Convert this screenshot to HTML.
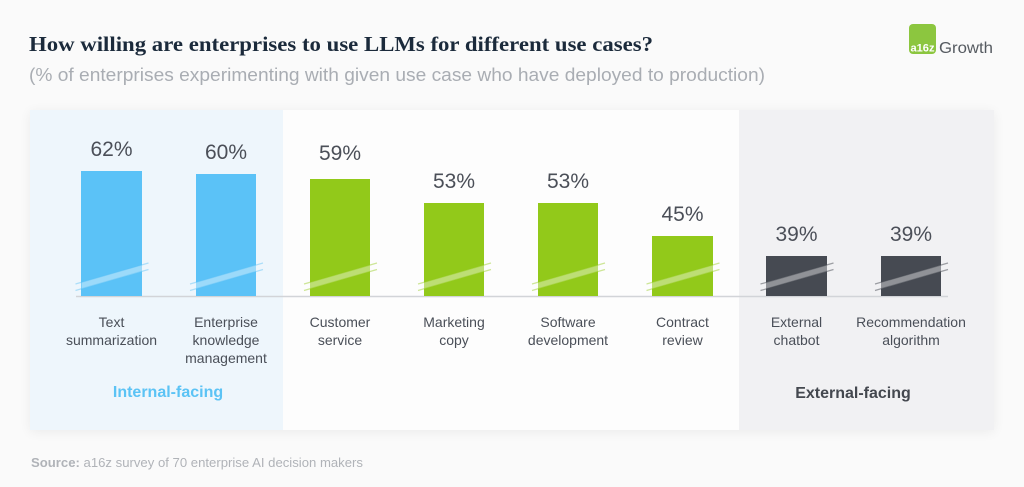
<!DOCTYPE html>
<html><head><meta charset="utf-8"><style>
html,body{margin:0;padding:0;background:#fafafa;}
svg{display:block;}
</style></head><body>
<svg width="1024" height="487" viewBox="0 0 1024 487" xmlns="http://www.w3.org/2000/svg" font-family="Liberation Sans, sans-serif">
<defs>
<filter id="sh" x="-5%" y="-10%" width="110%" height="120%"><feGaussianBlur stdDeviation="6"/></filter>
</defs>
<rect width="1024" height="487" fill="#fafafa"/>
<!-- title -->
<text x="29" y="51" font-family="Liberation Serif, serif" font-weight="bold" font-size="21" fill="#1b2a3b" textLength="624" lengthAdjust="spacingAndGlyphs">How willing are enterprises to use LLMs for different use cases?</text>
<text x="29" y="81" font-size="18" fill="#a9adb3" textLength="736" lengthAdjust="spacingAndGlyphs">(% of enterprises experimenting with given use case who have deployed to production)</text>
<!-- logo -->
<rect x="909" y="24" width="27" height="30" rx="4" fill="#8cc63f"/>
<text x="910.5" y="51.5" font-size="11" font-weight="bold" fill="#ffffff" textLength="24" lengthAdjust="spacingAndGlyphs">a16z</text>
<text x="939" y="53" font-size="16" fill="#555a60" textLength="54" lengthAdjust="spacingAndGlyphs">Growth</text>
<!-- panel shadow -->
<rect x="30" y="112" width="964" height="320" fill="#000" opacity="0.06" filter="url(#sh)"/>
<rect x="30" y="110" width="253" height="320" fill="#eef6fc"/>
<rect x="283" y="110" width="456" height="320" fill="#fdfdfd"/>
<rect x="739" y="110" width="255" height="320" fill="#f1f1f3"/>
<!-- baseline -->
<line x1="76" y1="296.5" x2="948" y2="296.5" stroke="#d2d4d8" stroke-width="1.5"/>
<!-- bars -->
<g>
<rect x="81" y="171" width="61" height="125" fill="#5bc2f7"/>
<rect x="196" y="174" width="60" height="122" fill="#5bc2f7"/>
<rect x="310" y="179" width="60" height="117" fill="#92c91a"/>
<rect x="424" y="203" width="60" height="93" fill="#92c91a"/>
<rect x="538" y="203" width="60" height="93" fill="#92c91a"/>
<rect x="652" y="236" width="61" height="60" fill="#92c91a"/>
<rect x="766" y="256" width="61" height="40" fill="#464a52"/>
<rect x="881" y="256" width="60" height="40" fill="#464a52"/>
</g>
<!-- break stripes -->
<g id="stripes">
<g transform="translate(111.5,0)">
<polygon points="-30,282.4 30.5,265 30.5,271.5 -30,288.9" fill="#fff" opacity="0.4"/>
<line x1="-36" y1="284" x2="37" y2="263" stroke="#5bc2f7" stroke-opacity="0.45" stroke-width="1.2"/>
<line x1="-36" y1="290.5" x2="37" y2="269.5" stroke="#5bc2f7" stroke-opacity="0.45" stroke-width="1.2"/>
</g>
<g transform="translate(226,0)">
<polygon points="-30,282.4 30,265 30,271.5 -30,288.9" fill="#fff" opacity="0.4"/>
<line x1="-36" y1="284" x2="37" y2="263" stroke="#5bc2f7" stroke-opacity="0.45" stroke-width="1.2"/>
<line x1="-36" y1="290.5" x2="37" y2="269.5" stroke="#5bc2f7" stroke-opacity="0.45" stroke-width="1.2"/>
</g>
<g transform="translate(340,0)">
<polygon points="-30,282.4 30,265 30,271.5 -30,288.9" fill="#fff" opacity="0.4"/>
<line x1="-36" y1="284" x2="37" y2="263" stroke="#92c91a" stroke-opacity="0.45" stroke-width="1.2"/>
<line x1="-36" y1="290.5" x2="37" y2="269.5" stroke="#92c91a" stroke-opacity="0.45" stroke-width="1.2"/>
</g>
<g transform="translate(454,0)">
<polygon points="-30,282.4 30,265 30,271.5 -30,288.9" fill="#fff" opacity="0.4"/>
<line x1="-36" y1="284" x2="37" y2="263" stroke="#92c91a" stroke-opacity="0.45" stroke-width="1.2"/>
<line x1="-36" y1="290.5" x2="37" y2="269.5" stroke="#92c91a" stroke-opacity="0.45" stroke-width="1.2"/>
</g>
<g transform="translate(568,0)">
<polygon points="-30,282.4 30,265 30,271.5 -30,288.9" fill="#fff" opacity="0.4"/>
<line x1="-36" y1="284" x2="37" y2="263" stroke="#92c91a" stroke-opacity="0.45" stroke-width="1.2"/>
<line x1="-36" y1="290.5" x2="37" y2="269.5" stroke="#92c91a" stroke-opacity="0.45" stroke-width="1.2"/>
</g>
<g transform="translate(682.5,0)">
<polygon points="-30.5,282.4 30.5,265 30.5,271.5 -30.5,288.9" fill="#fff" opacity="0.4"/>
<line x1="-36" y1="284" x2="37" y2="263" stroke="#92c91a" stroke-opacity="0.45" stroke-width="1.2"/>
<line x1="-36" y1="290.5" x2="37" y2="269.5" stroke="#92c91a" stroke-opacity="0.45" stroke-width="1.2"/>
</g>
<g transform="translate(796.5,0)">
<polygon points="-30.5,282.4 30.5,265 30.5,271.5 -30.5,288.9" fill="#fff" opacity="0.4"/>
<line x1="-36" y1="284" x2="37" y2="263" stroke="#464a52" stroke-opacity="0.5" stroke-width="1.2"/>
<line x1="-36" y1="290.5" x2="37" y2="269.5" stroke="#464a52" stroke-opacity="0.5" stroke-width="1.2"/>
</g>
<g transform="translate(911,0)">
<polygon points="-30,282.4 30,265 30,271.5 -30,288.9" fill="#fff" opacity="0.4"/>
<line x1="-36" y1="284" x2="37" y2="263" stroke="#464a52" stroke-opacity="0.5" stroke-width="1.2"/>
<line x1="-36" y1="290.5" x2="37" y2="269.5" stroke="#464a52" stroke-opacity="0.5" stroke-width="1.2"/>
</g>
</g>
<!-- values -->
<g font-size="21" fill="#4b4f58" text-anchor="middle">
<text x="111.5" y="156">62%</text>
<text x="226" y="159">60%</text>
<text x="340" y="160">59%</text>
<text x="454" y="188">53%</text>
<text x="568" y="188">53%</text>
<text x="682.5" y="221">45%</text>
<text x="796.5" y="241">39%</text>
<text x="911" y="241">39%</text>
</g>
<!-- category labels -->
<g font-size="14" fill="#4a4f58" text-anchor="middle">
<text x="111.5" y="327">Text</text>
<text x="111.5" y="345">summarization</text>
<text x="226" y="327">Enterprise</text>
<text x="226" y="345">knowledge</text>
<text x="226" y="363">management</text>
<text x="340" y="327">Customer</text>
<text x="340" y="345">service</text>
<text x="454" y="327">Marketing</text>
<text x="454" y="345">copy</text>
<text x="568" y="327">Software</text>
<text x="568" y="345">development</text>
<text x="682.5" y="327">Contract</text>
<text x="682.5" y="345">review</text>
<text x="796.5" y="327">External</text>
<text x="796.5" y="345">chatbot</text>
<text x="911" y="327">Recommendation</text>
<text x="911" y="345">algorithm</text>
</g>
<!-- group labels -->
<text x="168" y="397" font-size="16" font-weight="bold" fill="#5bc3f5" text-anchor="middle">Internal-facing</text>
<text x="853" y="398" font-size="16" font-weight="bold" fill="#44484f" text-anchor="middle">External-facing</text>
<!-- source -->
<text x="31" y="467" font-size="13" fill="#b0b3b8" textLength="332" lengthAdjust="spacingAndGlyphs"><tspan font-weight="bold">Source:</tspan> a16z survey of 70 enterprise AI decision makers</text>
</svg>
</body></html>
